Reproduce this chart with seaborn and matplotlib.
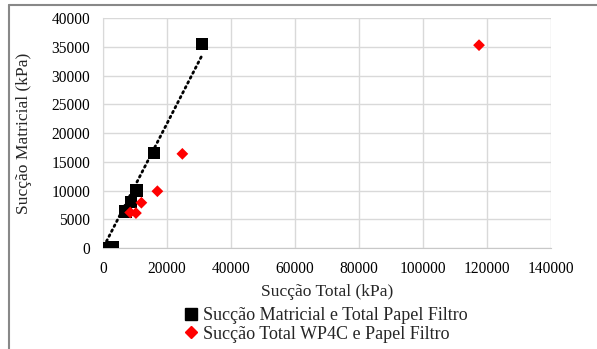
import numpy as np
import pandas as pd
import matplotlib
matplotlib.use("Agg")
import matplotlib.pyplot as plt
import seaborn as sns
from matplotlib.lines import Line2D

# Succao Matricial e Total Papel Filtro
pf_total = [500, 3000, 7000, 8800, 10500, 16000, 31000]
pf_matricial = [50, 100, 6400, 8000, 10000, 16500, 35500]

# Succao Total WP4C e Papel Filtro
wp_total = [8500, 10300, 12000, 17000, 24800, 117500]
wp_matricial = [6200, 6100, 7900, 9900, 16400, 35300]

x_ticks = [0, 20000, 40000, 60000, 80000, 100000, 120000, 140000]
y_ticks = [0, 5000, 10000, 15000, 20000, 25000, 30000, 35000, 40000]

lab_pf = "Sucção Matricial e Total Papel Filtro"
lab_wp = "Sucção Total WP4C e Papel Filtro"

sns.set_style("white")
plt.rcParams['font.family'] = ['Liberation Serif', 'DejaVu Serif']

fig = plt.figure(figsize=(5.97, 3.49), dpi=100)
ax = fig.add_axes([0.1725, 0.289, 0.7505, 0.659])

df_pf = pd.DataFrame({"x": pf_total, "y": pf_matricial})
df_wp = pd.DataFrame({"x": wp_total, "y": wp_matricial})

# linear trendline through origin (like the Excel one)
slope = np.sum(df_pf.x * df_pf.y) / np.sum(df_pf.x ** 2)
xs = np.array([df_pf.x.min() + 600, df_pf.x.max()])
trend = pd.DataFrame({"x": xs, "y": slope * xs})
sns.lineplot(data=trend, x="x", y="y", ax=ax, color="black", lw=2,
             linestyle=(0, (0.6, 1.4)), dash_capstyle="round", zorder=2)

sns.scatterplot(data=df_pf, x="x", y="y", ax=ax, marker="s", s=80,
                color="black", edgecolor="none", zorder=3)
sns.scatterplot(data=df_wp, x="x", y="y", ax=ax, marker="D", s=36,
                color="#ff0000", edgecolor="none", zorder=4)

ax.set_xlim(0, 140000)
ax.set_ylim(0, 40000)
ax.set_xticks(x_ticks)
ax.set_yticks(y_ticks)
ax.grid(True, color="#d9d9d9", lw=1)
ax.set_axisbelow(True)
for s in ax.spines.values():
    s.set_visible(False)
ax.spines["left"].set_visible(True)
ax.spines["bottom"].set_visible(True)
ax.spines["left"].set_color("#d9d9d9")
ax.spines["bottom"].set_color("#c8c8c8")
ax.tick_params(length=0, labelsize=11.2, pad=9, colors="black")
ax.set_xlabel("Sucção Total (kPa)", fontsize=12.6, labelpad=5)
ax.set_ylabel("Sucção Matricial (kPa)", fontsize=12.6, labelpad=14)

handles = [
    Line2D([], [], marker="s", color="black", ls="none", markersize=8),
    Line2D([], [], marker="D", color="#ff0000", ls="none", markersize=6),
]
fig.legend(handles, [lab_pf, lab_wp], loc="upper left",
           bbox_to_anchor=(0.296, 0.14), frameon=False, fontsize=13,
           handlelength=0.8, handletextpad=0.25, labelspacing=0.08,
           borderaxespad=0)

# chart border (top and left visible)
fig.add_artist(Line2D([0.0145, 0.0145], [0, 0.987], color="#888888", lw=1.5,
                      transform=fig.transFigure))
fig.add_artist(Line2D([0.0145, 1], [0.987, 0.987], color="#888888", lw=1.5,
                      transform=fig.transFigure))

fig.savefig("out.png", dpi=100)
